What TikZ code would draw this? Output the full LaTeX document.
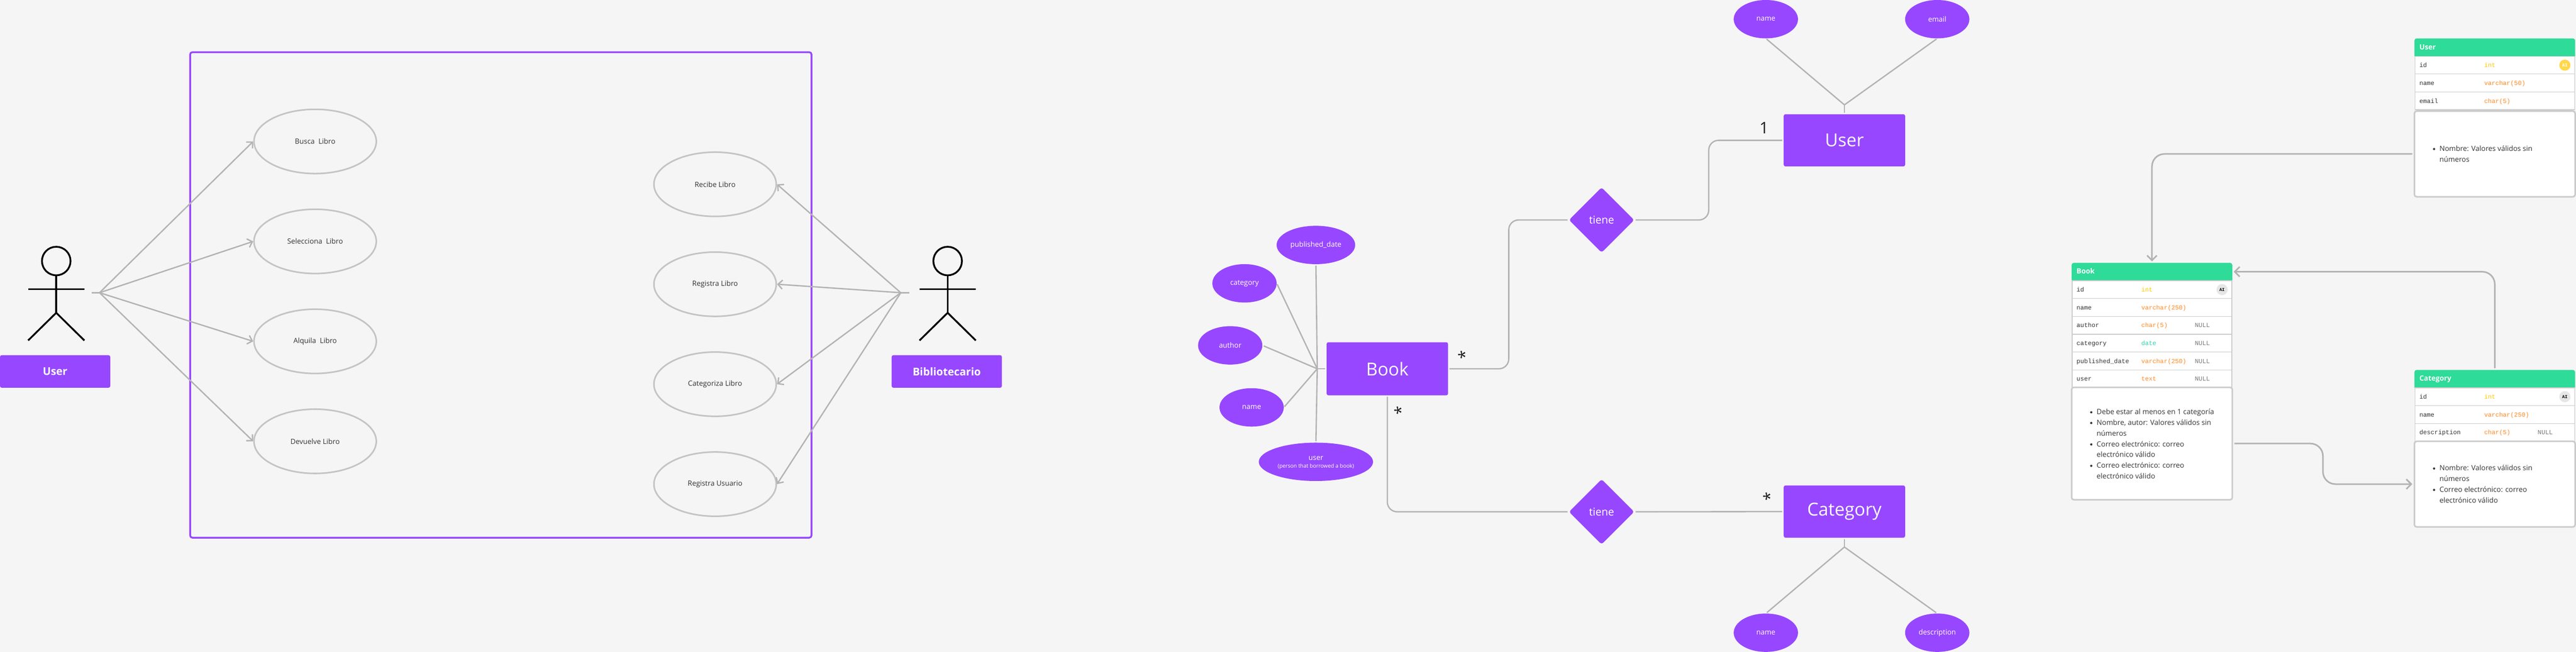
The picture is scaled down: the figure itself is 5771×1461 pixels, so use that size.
\documentclass[tikz,border=0pt]{standalone}
\usepackage{fontspec}
\setmainfont{Open Sans}
\newfontfamily\monof{Liberation Mono}
\usetikzlibrary{shapes.geometric,arrows.meta}
\definecolor{bgc}{HTML}{F5F5F5}
\definecolor{purp}{HTML}{9747FF}
\definecolor{grn}{HTML}{2EDB98}
\definecolor{linec}{HTML}{B3B3B3}
\definecolor{ellc}{HTML}{C4C4C4}
\definecolor{bordc}{HTML}{CBCBCB}
\definecolor{txtc}{HTML}{333333}
\definecolor{cardc}{HTML}{1E1E1E}
\definecolor{intc}{HTML}{FFC800}
\definecolor{orgc}{HTML}{FF8A24}
\definecolor{tealc}{HTML}{2DD4B0}
\definecolor{nullc}{HTML}{777777}
\definecolor{goldc}{HTML}{FFD84D}
\definecolor{greyb}{HTML}{E6E6E6}
\tikzset{
  fs/.style={font=\fontsize{#1}{#1}\selectfont},
  conn/.style={draw=linec,line width=3pt},
  arr/.style={conn,-{Straight Barb[length=10pt,width=20pt,line width=3pt]}},
  tconn/.style={draw=linec,line width=3.5pt,rounded corners=28pt},
  tarr/.style={tconn,-{Straight Barb[length=11pt,width=22pt,line width=3.5pt]}},
  usecase/.style={ellipse,draw=ellc,line width=3.5pt,fill=bgc,minimum width=274pt,minimum height=144pt,inner sep=0pt,text=txtc,fs=16},
  actorhead/.style={ellipse,draw=black,line width=4pt,minimum width=64pt,minimum height=64pt,inner sep=0pt},
  actorline/.style={draw=black,line width=4pt},
  actorbox/.style={rectangle,rounded corners=4pt,fill=purp,text=white,inner sep=0pt,minimum height=73pt,font=\fontsize{24}{24}\selectfont\bfseries},
  entity/.style={rectangle,rounded corners=4pt,fill=purp,text=white,inner sep=0pt,minimum width=272pt,fs=40},
  attr/.style={ellipse,fill=purp,text=white,inner sep=0pt,minimum height=86pt,minimum width=144pt,fs=16,align=center},
  rel/.style={diamond,aspect=1,fill=purp,text=white,inner sep=0pt,minimum width=146pt,minimum height=146pt,rounded corners=5pt,fs=24},
  cardin/.style={text=cardc,inner sep=0pt},
  rowbox/.style={rectangle,draw=bordc,line width=1.5pt,fill=white,minimum width=358pt,minimum height=40pt,inner sep=0pt},
  fieldt/.style={anchor=base west,inner sep=0pt,text=txtc,font=\fontsize{14}{14}\selectfont\monof},
  headt/.style={anchor=base west,inner sep=0pt,text=white,font=\fontsize{16}{16}\selectfont\bfseries},
  badget/.style={circle,minimum size=25pt,inner sep=0pt,font=\fontsize{10}{10}\selectfont\monof\bfseries},
  notebox/.style={rectangle,rounded corners=5pt,draw=bordc,line width=3.5pt,fill=white,minimum width=360pt,inner sep=0pt},
  noteitem/.style={anchor=north west,inner sep=0pt,align=left,text=txtc,font=\fontsize{16}{24}\selectfont},
  notedot/.style={circle,fill=txtc,minimum size=5pt,inner sep=0pt},
}
\newcommand{\dbhead}[4]{%
  \path[fill=grn] (#2,#3+40) [rounded corners=5pt] -- (#2,#3) -- (#2+360,#3) [sharp corners] -- (#2+360,#3+40) -- cycle;
  \node[headt] (#1) at (#2+11,#3+25) {#4};}
\newcommand{\dbrow}[6]{%
  \node[rowbox] (#1) at (#2+180,#3+20) {};
  \node[fieldt] (#1f) at (#2+11,#3+25) {#4};
  \node[fieldt,text=#5] (#1t) at (#2+156,#3+25) {#6};}
\newcommand{\dbnull}[3]{\node[fieldt,text=nullc] (#1n) at (#2+276,#3+25) {NULL};}
\newcommand{\dbbadge}[5]{\node[badget,fill=#4,text=#5] (#1b) at (#2+337,#3+20) {AI};}
\newcommand{\actorfig}[2]{%
  \node[actorhead] (#1h) at (#2,585) {};
  \coordinate (#1c) at (#2,701);
  \coordinate (#1al) at (#2-63,648);
  \coordinate (#1ar) at (#2+63,648);
  \coordinate (#1ll) at (#2-63,763);
  \coordinate (#1lr) at (#2+63,763);
  \draw[actorline] (#1h.south) -- (#1c);
  \draw[actorline] (#1al) -- (#1ar);
  \draw[actorline] (#1ll) -- (#1c) -- (#1lr);}
\newcommand{\bitem}[4]{%
  \node[notedot] (#1d) at (#2-12,#3+1) {};
  \node[noteitem] (#1) at (#2,#3-11.3) {\strut #4};}
\begin{document}
\begin{tikzpicture}[x=1pt,y=-1pt]
\fill[bgc] (0,0) rectangle (5771,1461);
\useasboundingbox (0,0) rectangle (5771,1461);

% ---------- use case ----------
\node[rectangle,draw=purp,line width=4pt,rounded corners=5pt,minimum width=1392pt,minimum height=1088pt,inner sep=0pt] (frame) at (1122,661) {};

\node[usecase] (u1) at (706,317) {Busca~ Libro};
\node[usecase] (u2) at (706,541) {Selecciona~ Libro};
\node[usecase] (u3) at (706,765) {Alquila~ Libro};
\node[usecase] (u4) at (706,989) {Devuelve Libro};
\node[usecase] (r1) at (1602,413) {Recibe Libro};
\node[usecase] (r2) at (1602,637) {Registra Libro};
\node[usecase] (r3) at (1602,861) {Categoriza Libro};
\node[usecase] (r4) at (1602,1085) {Registra Usuario};

\actorfig{al}{126}
\actorfig{ar}{2123}
\node[actorbox,minimum width=247pt] (userbox) at (123.5,832.5) {User};
\node[actorbox,minimum width=247pt] (bibbox) at (2121,832.5) {Bibliotecario};

\coordinate (ls) at (205,656);
\coordinate (lh) at (223,656);
\coordinate (rs) at (2037,656);
\coordinate (rh) at (2018,656);
\draw[conn] (ls) -- (lh);
\draw[conn] (rs) -- (rh);
\draw[arr] (lh) -- (u1.west);
\draw[arr] (lh) -- (u2.west);
\draw[arr] (lh) -- (u3.west);
\draw[arr] (lh) -- (u4.west);
\draw[arr] (rh) -- (r1.east);
\draw[arr] (rh) -- (r2.east);
\draw[arr] (rh) -- (r3.east);
\draw[arr] (rh) -- (r4.east);

% ---------- ER ----------
\node[entity,minimum height=119pt] (book) at (3108,826.5) {Book};
\node[entity,minimum height=117pt] (user) at (4132,314.5) {User};
\node[entity,minimum height=117pt] (cat) at (4132,1146.5) {Category};
\node[rel] (d1) at (3588,493) {tiene};
\node[rel] (d2) at (3588,1147) {tiene};

\node[attr,minimum width=176pt] (apd) at (2948,549) {published\_date};
\node[attr] (acat) at (2788,635) {category};
\node[attr] (aau) at (2756,774) {author};
\node[attr] (ana) at (2804,913) {name};
\node[attr,minimum width=256pt] (aus) at (2948,1035) {};
\node[inner sep=0pt,text=white,fs=16] (ausa) at (2948,1027.5) {user};
\node[inner sep=0pt,text=white,fs=12] (ausb) at (2948,1046) {(person that borrowed a book)};
\node[attr] (un) at (3956,43) {name};
\node[attr] (ue) at (4340,43) {email};
\node[attr] (cn) at (3956,1418) {name};
\node[attr] (cd) at (4340,1418) {description};

\coordinate (bh) at (2951,826.5);
\draw[conn] (book.west) ++(-3,0) -- (bh);
\draw[conn,shorten >=3pt] (bh) -- (apd.south);
\draw[conn,shorten >=2pt] (bh) -- (acat.east);
\draw[conn,shorten >=3pt] (bh) -- (aau.east);
\draw[conn,shorten >=2pt] (bh) -- (ana.east);
\draw[conn,shorten >=3pt] (bh) -- (aus.north);

\coordinate (uh) at (4132,235);
\coordinate (ch) at (4132,1226);
\draw[conn,shorten <=3pt] (user.north) -- (uh);
\draw[conn,shorten >=2pt] (uh) -- (un.south);
\draw[conn,shorten >=2pt] (uh) -- (ue.south);
\draw[conn,shorten <=3pt] (cat.south) -- (ch);
\draw[conn,shorten >=3pt] (ch) -- (cn.north);
\draw[conn,shorten >=3pt] (ch) -- (cd.north);

\coordinate (b1) at (3380,826.5);
\coordinate (b2) at (3380,493);
\coordinate (b3) at (3108,1147);
\coordinate (b4) at (3828,493);
\coordinate (b5) at (3828,314.5);
\draw[conn,rounded corners=22pt,shorten <=3pt,shorten >=3pt] (book.east) -- (b1) -- (b2) -- (d1.west);
\draw[conn,rounded corners=22pt,shorten <=3pt,shorten >=3pt] (book.south) -- (b3) -- (d2.west);
\draw[conn,rounded corners=22pt,shorten <=3pt,shorten >=3pt] (d1.east) -- (b4) -- (b5) -- (user.west);
\draw[conn,shorten <=3pt,shorten >=3pt] (d2.east) -- (cat.west);

\node[cardin,fs=36] (c1) at (3952,287) {1};
\node[cardin,fs=36,rotate=90] (c2) at (3281,795) {*};
\node[cardin,fs=36,rotate=90] (c3) at (3138,920) {*};
\node[cardin,fs=36,rotate=90] (c4) at (3964,1113) {*};

% ---------- tables ----------
\dbhead{tb}{4641}{589}{Book}
\dbrow{tb1}{4641}{629}{id}{intc}{int}
\dbbadge{tb1}{4641}{629}{greyb}{black}
\dbrow{tb2}{4641}{669}{name}{orgc}{varchar(250)}
\dbrow{tb3}{4641}{709}{author}{orgc}{char(5)}
\dbnull{tb3}{4641}{709}
\dbrow{tb4}{4641}{749}{category}{tealc}{date}
\dbnull{tb4}{4641}{749}
\dbrow{tb5}{4641}{789}{published\_date}{orgc}{varchar(250)}
\dbnull{tb5}{4641}{789}
\dbrow{tb6}{4641}{829}{user}{orgc}{text}
\dbnull{tb6}{4641}{829}
\node[notebox,minimum height=252pt] (nb) at (4821,994) {};
\bitem{nb1}{4697}{923}{Debe estar al menos en 1 categoría}
\bitem{nb2}{4697}{947}{Nombre, autor: Valores válidos sin\\números}
\bitem{nb3}{4697}{995}{Correo electrónico: correo\\electrónico válido}
\bitem{nb4}{4697}{1043}{Correo electrónico: correo\\electrónico válido}

\dbhead{tu}{5409}{86}{User}
\dbrow{tu1}{5409}{126}{id}{intc}{int}
\dbbadge{tu1}{5409}{126}{goldc}{white}
\dbrow{tu2}{5409}{166}{name}{orgc}{varchar(50)}
\dbrow{tu3}{5409}{206}{email}{orgc}{char(5)}
\node[notebox,minimum height=192pt] (nu) at (5589,345) {};
\bitem{nu1}{5465}{333}{Nombre: Valores válidos sin\\números}

\dbhead{tc}{5409}{829}{Category}
\dbrow{tc1}{5409}{869}{id}{intc}{int}
\dbbadge{tc1}{5409}{869}{greyb}{black}
\dbrow{tc2}{5409}{909}{name}{orgc}{varchar(250)}
\dbrow{tc3}{5409}{949}{description}{orgc}{char(5)}
\dbnull{tc3}{5409}{949}
\node[notebox,minimum height=192pt] (nc) at (5589,1085) {};
\bitem{nc1}{5465}{1049}{Nombre: Valores válidos sin\\números}
\bitem{nc2}{5465}{1097}{Correo electrónico: correo\\electrónico válido}

\coordinate (t0) at (4821,586);
\coordinate (t1) at (4821,345);
\draw[tarr,shorten <=3pt] (nu.west) -- (t1) -- (t0);
\coordinate (t2) at (5589,609);
\coordinate (t3) at (5004,609);
\coordinate (t6) at (5589,825);
\draw[tarr] (t6) -- (t2) -- (t3);
\coordinate (t4) at (5204,994);
\coordinate (t5) at (5204,1085);
\draw[tarr,shorten <=3pt,shorten >=3pt] (nb.east) -- (t4) -- (t5) -- (nc.west);
\end{tikzpicture}
\end{document}
